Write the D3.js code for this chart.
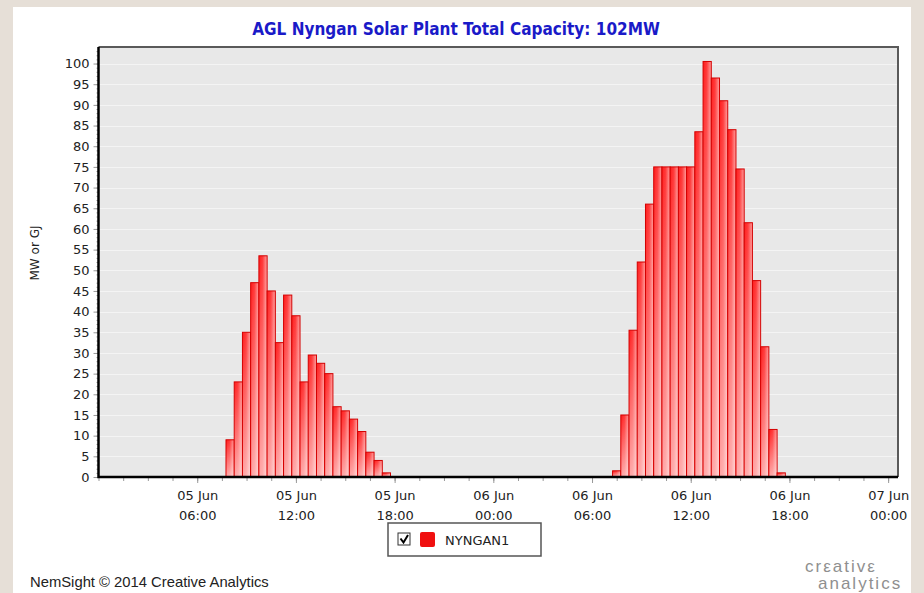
<!DOCTYPE html>
<html>
<head>
<meta charset="utf-8">
<script src="https://cdn.jsdelivr.net/npm/d3@7"></script>
<style>
  html, body { margin: 0; padding: 0; background: #e6dfd7; }
  svg { display: block; }
</style>
</head>
<body>
<svg width="924" height="593"></svg>
<script>
// half-hourly output, MW (bars centred on the timestamp)
var day1Times = ["08:00","08:30","09:00","09:30","10:00","10:30","11:00","11:30","12:00","12:30",
                 "13:00","13:30","14:00","14:30","15:00","15:30","16:00","16:30","17:00","17:30"];
var day1Values = [9, 23, 35, 47, 53.5, 45, 32.5, 44, 39, 23, 29.5, 27.5, 25, 17, 16, 14, 11, 6, 4, 1];

var day2Times = ["07:30","08:00","08:30","09:00","09:30","10:00","10:30","11:00","11:30","12:00","12:30",
                 "13:00","13:30","14:00","14:30","15:00","15:30","16:00","16:30","17:00","17:30"];
var day2Values = [1.5, 15, 35.5, 52, 66, 75, 75, 75, 75, 75, 83.5, 100.5, 96.5, 91, 84, 74.5, 61.5, 47.5, 31.5, 11.5, 1];

var xTickLabels = ["2014-06-05 06:00","2014-06-05 12:00","2014-06-05 18:00","2014-06-06 00:00",
                   "2014-06-06 06:00","2014-06-06 12:00","2014-06-06 18:00","2014-06-07 00:00"];
var yTickLabels = [0,5,10,15,20,25,30,35,40,45,50,55,60,65,70,75,80,85,90,95,100];

var parse = d3.utcParse("%Y-%m-%d %H:%M");

var data = day1Times.map(function(t, i){ return {t: parse("2014-06-05 " + t), v: day1Values[i]}; })
  .concat(day2Times.map(function(t, i){ return {t: parse("2014-06-06 " + t), v: day2Values[i]}; }));

var svg = d3.select("svg"),
    plot = {left: 98.5, right: 898, top: 47, bottom: 477};

var x = d3.scaleUtc()
    .domain([parse("2014-06-05 00:00"), parse("2014-06-07 00:36")])
    .range([plot.left, plot.right]);
var y = d3.scaleLinear().domain([0, 104]).range([plot.bottom, plot.top]);

// white panel
svg.append("rect").attr("x", 13).attr("y", 7).attr("width", 898).attr("height", 600).attr("fill", "#fff");

var defs = svg.append("defs");
var gH = defs.append("linearGradient").attr("id", "barH").attr("x1", 0).attr("x2", 1).attr("y1", 0).attr("y2", 0);
gH.append("stop").attr("offset", 0).attr("stop-color", "#ff1c1c");
gH.append("stop").attr("offset", 0.45).attr("stop-color", "#ff3a3a");
gH.append("stop").attr("offset", 1).attr("stop-color", "#ffa0a0");
var gV = defs.append("linearGradient").attr("id", "barV").attr("x1", 0).attr("x2", 0).attr("y1", 0).attr("y2", 1);
gV.append("stop").attr("offset", 0).attr("stop-color", "#fff").attr("stop-opacity", 0);
gV.append("stop").attr("offset", 1).attr("stop-color", "#fff").attr("stop-opacity", 0.6);

// plot background
svg.append("rect")
  .attr("x", plot.left).attr("y", plot.top)
  .attr("width", plot.right - plot.left).attr("height", plot.bottom - plot.top)
  .attr("fill", "#e8e8e8");

svg.append("g").selectAll("line")
  .data(yTickLabels.slice(1))
  .enter().append("line")
  .attr("x1", plot.left).attr("x2", plot.right)
  .attr("y1", function(d){ return Math.round(y(d)) + 0.5; })
  .attr("y2", function(d){ return Math.round(y(d)) + 0.5; })
  .attr("stroke", "#f4f4f4");

// bars
var halfHour = x(parse("2014-06-05 00:30")) - x(parse("2014-06-05 00:00"));
var bars = svg.append("g").selectAll("g").data(data).enter().append("g");
bars.append("rect")
  .attr("x", function(d){ return x(d.t) - halfHour / 2; })
  .attr("y", function(d){ return y(d.v); })
  .attr("width", halfHour)
  .attr("height", function(d){ return y(0) - y(d.v); })
  .attr("fill", "url(#barH)")
  .attr("stroke", "#d40000")
  .attr("stroke-width", 1);
bars.append("rect")
  .attr("x", function(d){ return x(d.t) - halfHour / 2 + 0.5; })
  .attr("y", function(d){ return y(d.v) + 0.5; })
  .attr("width", halfHour - 1)
  .attr("height", function(d){ return Math.max(0, y(0) - y(d.v) - 1); })
  .attr("fill", "url(#barV)");

// frame
svg.append("path")
  .attr("d", "M" + plot.left + "," + plot.top + "H" + plot.right + "V" + plot.bottom)
  .attr("fill", "none").attr("stroke", "#5a5a5a").attr("stroke-width", 2);

// y axis
var yMinor = svg.append("g").attr("transform", "translate(" + plot.left + ",0)")
  .call(d3.axisLeft(y).tickValues(d3.range(0, 104, 1)).tickSize(2).tickFormat(""));
var yAxis = svg.append("g").attr("transform", "translate(" + plot.left + ",0)")
  .call(d3.axisLeft(y).tickValues(yTickLabels).tickSize(5).tickPadding(4));
[yMinor, yAxis].forEach(function(g){
  g.select(".domain").remove();
  g.selectAll("line").attr("stroke", "#999");
});
yAxis.selectAll("text")
  .attr("font-family", "DejaVu Sans").attr("font-size", 13).attr("fill", "#222");

// x axis
var start = parse("2014-06-05 00:00");
var minorTicks = d3.range(0, 33).map(function(i){ return d3.utcMinute.offset(start, i * 90); });
var xMinor = svg.append("g").attr("transform", "translate(0," + plot.bottom + ")")
  .call(d3.axisBottom(x).tickValues(minorTicks).tickSize(4).tickFormat(""));
var xAxis = svg.append("g").attr("transform", "translate(0," + plot.bottom + ")")
  .call(d3.axisBottom(x).tickValues(xTickLabels.map(parse)).tickSize(6).tickFormat(""));
[xMinor, xAxis].forEach(function(g){
  g.select(".domain").remove();
  g.selectAll("line").attr("stroke", "#999");
});
xAxis.selectAll(".tick").each(function(d){
  var t = d3.select(this).append("text")
    .attr("text-anchor", "middle").attr("fill", "#222")
    .attr("font-family", "DejaVu Sans").attr("font-size", 13);
  t.append("tspan").attr("x", 0).attr("y", 23).text(d3.utcFormat("%d %b")(d));
  t.append("tspan").attr("x", 0).attr("y", 43).text(d3.utcFormat("%H:%M")(d));
});

svg.append("path")
  .attr("d", "M" + plot.left + "," + plot.top + "V" + plot.bottom + "H" + plot.right)
  .attr("fill", "none").attr("stroke", "#000").attr("stroke-width", 2.5);

// titles
svg.append("text")
  .attr("x", 456).attr("y", 35).attr("text-anchor", "middle")
  .attr("font-family", "DejaVu Sans Condensed, DejaVu Sans").attr("font-weight", "bold")
  .attr("font-size", 17).attr("fill", "#1a1ac8")
  .text("AGL Nyngan Solar Plant Total Capacity: 102MW");

svg.append("text")
  .attr("transform", "translate(39,253) rotate(-90)")
  .attr("text-anchor", "middle")
  .attr("font-family", "DejaVu Sans").attr("font-size", 12).attr("fill", "#222")
  .text("MW or GJ");

// legend
var lg = svg.append("g").attr("transform", "translate(388,523)");
lg.append("rect").attr("width", 153).attr("height", 33).attr("fill", "#fff")
  .attr("stroke", "#555").attr("stroke-width", 1.5);
lg.append("rect").attr("x", 10).attr("y", 10).attr("width", 12).attr("height", 12)
  .attr("fill", "#fff").attr("stroke", "#333").attr("stroke-width", 1);
lg.append("path").attr("d", "M12.5,15.5 L15.5,19.5 L20,12")
  .attr("fill", "none").attr("stroke", "#000").attr("stroke-width", 2);
lg.append("rect").attr("x", 32).attr("y", 9).attr("width", 15).attr("height", 15).attr("rx", 2)
  .attr("fill", "#f01010");
lg.append("text").attr("x", 57).attr("y", 22)
  .attr("font-family", "DejaVu Sans").attr("font-size", 13).attr("fill", "#222")
  .text("NYNGAN1");

// footer
svg.append("text").attr("x", 30).attr("y", 587)
  .attr("font-family", "Liberation Sans").attr("font-size", 14.8).attr("fill", "#222")
  .text("NemSight \u00a9 2014 Creative Analytics");
svg.append("text").attr("x", 805).attr("y", 572)
  .attr("font-family", "Liberation Sans").attr("font-size", 17).attr("letter-spacing", 2)
  .attr("fill", "#8f8f8f")
  .text("cr\u03b5ativ\u03b5");
svg.append("text").attr("x", 818).attr("y", 589)
  .attr("font-family", "Liberation Sans").attr("font-size", 17).attr("letter-spacing", 2)
  .attr("fill", "#8f8f8f")
  .text("analytics");
</script>
</body>
</html>
